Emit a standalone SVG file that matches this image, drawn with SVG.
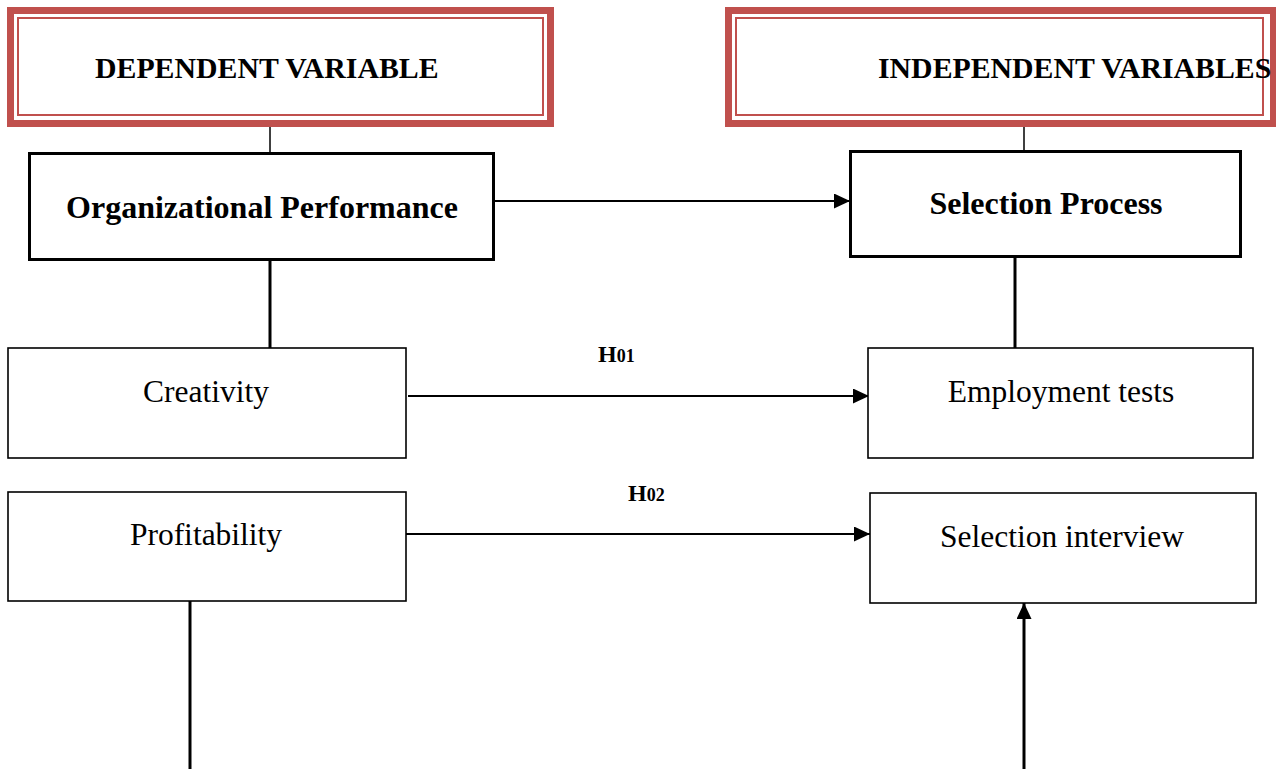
<svg xmlns="http://www.w3.org/2000/svg" width="1276" height="769" viewBox="0 0 1276 769">
<style>
.hdrOuter{fill:none;stroke:#c0504d;stroke-width:7}
.hdrInner{fill:none;stroke:#c0504d;stroke-width:2}
.hdr{font-family:"Liberation Serif",serif;font-weight:bold;font-size:29.8px;fill:#000}
.main{fill:#fff;stroke:#000;stroke-width:3}
.sub{fill:#fff;stroke:#000;stroke-width:1.6}
.bt{font-family:"Liberation Serif",serif;font-weight:bold;font-size:32px;fill:#000;text-anchor:middle}
.rt{font-family:"Liberation Serif",serif;font-size:31.5px;fill:#000;text-anchor:middle}
.hl{font-family:"Liberation Serif",serif;font-weight:bold;fill:#000}
.thin{stroke:#000;stroke-width:1.5;fill:none}
.med{stroke:#000;stroke-width:2;fill:none}
.thick{stroke:#000;stroke-width:3;fill:none}
</style>
<defs>
<marker id="ah" markerWidth="16" markerHeight="15" refX="16" refY="7.5" orient="auto" markerUnits="userSpaceOnUse">
<path d="M0,0 L16,7.5 L0,15 Z" fill="#000"/>
</marker>
<linearGradient id="fade" x1="0" y1="0" x2="1" y2="0">
<stop offset="0" stop-color="#fff"/>
<stop offset="1" stop-color="#888"/>
</linearGradient>
</defs>
<rect width="1276" height="769" fill="#fff"/>
<g id="connectors">
<line class="thin" x1="270" y1="127" x2="270" y2="153"/>
<line class="thin" x1="1024" y1="127" x2="1024" y2="151"/>
<line class="med" x1="494" y1="201" x2="850" y2="201" marker-end="url(#ah)"/>
<line class="thick" x1="270" y1="260" x2="270" y2="348"/>
<line class="thick" x1="1015" y1="257" x2="1015" y2="348"/>
<line class="med" x1="408" y1="396" x2="869" y2="396" marker-end="url(#ah)"/>
<line class="med" x1="406" y1="534" x2="870" y2="534" marker-end="url(#ah)"/>
<line class="thick" x1="190" y1="601" x2="190" y2="769"/>
<line class="thick" x1="1024" y1="769" x2="1024" y2="603" marker-end="url(#ah)"/>
<line x1="813" y1="768" x2="1024" y2="768" stroke="url(#fade)" stroke-width="1.5"/>
<text class="hl" x="598" y="362" font-size="24">H<tspan font-size="18">01</tspan></text>
<text class="hl" x="628" y="501" font-size="24">H<tspan font-size="18">02</tspan></text>
</g>
<g id="dependent-variable">
<rect class="hdrOuter" x="10.5" y="10.5" width="540" height="113"/>
<rect class="hdrInner" x="18" y="18" width="525" height="97"/>
<text class="hdr" x="95" y="78">DEPENDENT VARIABLE</text>
</g>
<g id="independent-variables">
<rect class="hdrOuter" x="728.5" y="10.5" width="545" height="113"/>
<rect class="hdrInner" x="736" y="18" width="527" height="97"/>
<text class="hdr" x="878" y="78">INDEPENDENT VARIABLES</text>
</g>
<g id="organizational-performance">
<rect class="main" x="29.5" y="153.5" width="464" height="106"/>
<text class="bt" x="262" y="218">Organizational Performance</text>
</g>
<g id="selection-process">
<rect class="main" x="850.5" y="151.5" width="390" height="105"/>
<text class="bt" x="1046" y="214">Selection Process</text>
</g>
<g id="creativity">
<rect class="sub" x="8" y="348" width="398" height="110"/>
<text class="rt" x="206" y="402">Creativity</text>
</g>
<g id="employment-tests">
<rect class="sub" x="868" y="348" width="385" height="110"/>
<text class="rt" x="1061" y="402">Employment tests</text>
</g>
<g id="profitability">
<rect class="sub" x="8" y="492" width="398" height="109"/>
<text class="rt" x="206" y="545">Profitability</text>
</g>
<g id="selection-interview">
<rect class="sub" x="870" y="493" width="386" height="110"/>
<text class="rt" x="1062" y="547">Selection interview</text>
</g>
</svg>
